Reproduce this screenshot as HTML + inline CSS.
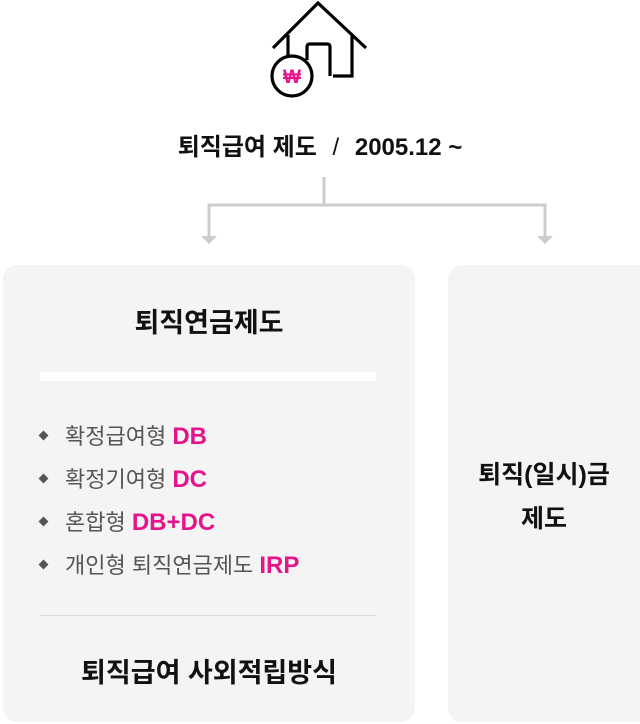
<!DOCTYPE html>
<html><head><meta charset="utf-8"><style>
html,body{margin:0;width:640px;height:724px;overflow:hidden}
body{background:#fff;position:relative;font-family:"Liberation Sans","Noto Sans CJK KR",sans-serif;}
.a{position:absolute}
.box{position:absolute;background:#f4f4f4;border-radius:14px;}
.t{position:absolute;font-weight:bold;color:#111;white-space:nowrap}
.li{position:absolute;left:40px;font-size:22px;color:#555;white-space:nowrap}
.li:before{content:"";display:inline-block;width:7px;height:7px;background:#555;transform:rotate(45deg);margin-right:18px;vertical-align:middle;position:relative;top:-3px}
.p{color:#e6148c;font-weight:bold;font-size:24px}
</style></head><body>
<svg class="a" style="left:0;top:0" width="640" height="260">
<g fill="none" stroke="#000" stroke-width="3.2">
<polyline points="273,48 318,3 366,48"/>
<polyline points="288,35 288,58"/>
<polyline points="352,34 352,76 333,76"/>
<path d="M307,60 V47 Q307,44 310,44 H327 Q330,44 330,47 V76"/>
<circle cx="292" cy="76" r="20" fill="#fff"/>
</g>
<text x="292" y="83" text-anchor="middle" font-size="19" font-weight="bold" fill="#e6148c" font-family="Liberation Sans">₩</text>
<g stroke="#ccc" stroke-width="3" fill="none">
<polyline points="324,177 324,205"/>
<polyline points="209,237 209,205 545,205 545,237"/>
</g>
<polygon points="201,236 217,236 209,244" fill="#ccc"/>
<polygon points="537,236 553,236 545,244" fill="#ccc"/>
</svg>
<div class="t" style="left:0;width:640px;text-align:center;top:127px;font-size:24px">퇴직급여 제도 <span style="font-weight:normal;margin:0 9px">/</span> 2005.12 ~</div>
<div class="box" style="left:3px;top:265px;width:412px;height:457px"></div>
<div class="box" style="left:448px;top:265px;width:192px;height:457px;border-radius:14px 0 0 14px"></div>
<div class="t" style="left:3px;width:412px;text-align:center;top:301px;font-size:27px">퇴직연금제도</div>
<div class="a" style="left:40px;top:372px;width:336px;height:9px;background:#fff"></div>
<div class="li" style="top:419px">확정급여형 <span class="p">DB</span></div>
<div class="li" style="top:462px">확정기여형 <span class="p">DC</span></div>
<div class="li" style="top:505px">혼합형 <span class="p">DB+DC</span></div>
<div class="li" style="top:548px">개인형 퇴직연금제도 <span class="p">IRP</span></div>
<div class="a" style="left:40px;top:615px;width:336px;height:1px;background:#ddd"></div>
<div class="t" style="left:3px;width:412px;text-align:center;top:651px;font-size:27px">퇴직급여 사외적립방식</div>
<div class="t" style="left:448px;width:192px;text-align:center;top:453px;font-size:25px;line-height:44px">퇴직(일시)금<br>제도</div>
</body></html>
